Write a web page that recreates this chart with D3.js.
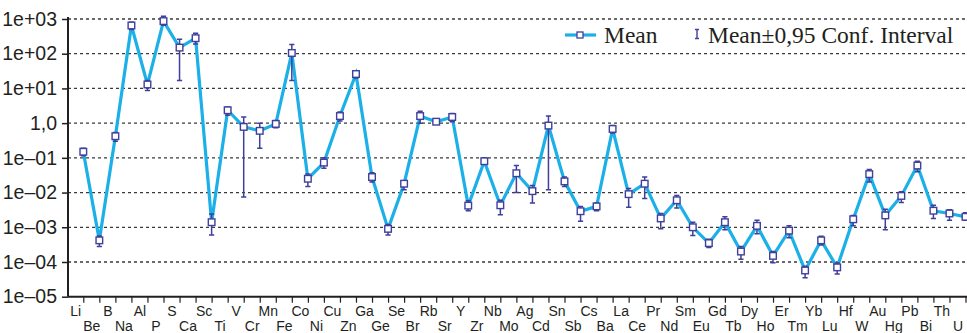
<!DOCTYPE html>
<html>
<head>
<meta charset="utf-8">
<script src="https://cdn.jsdelivr.net/npm/d3@7"></script>
<style>
  html, body { margin: 0; padding: 0; background: #fff; }
  svg { display: block; }
  .tick-label { font-family: "Liberation Sans Narrow", "Liberation Sans", Arial, sans-serif; fill: #231f20; }
  .legend-text { font-family: "Liberation Serif", "Times New Roman", serif; fill: #231f20; }
</style>
</head>
<body>
<svg id="chart" width="967" height="333"></svg>
<script>
// Element order along the x axis
const elements = ["Li","Be","B","Na","Al","P","S","Ca","Sc","Ti","V","Cr","Mn","Fe","Co","Ni","Cu","Zn","Ga","Ge",
  "Se","Br","Rb","Sr","Y","Zr","Nb","Mo","Ag","Cd","Sn","Sb","Cs","Ba","La","Ce","Pr","Nd","Sm","Eu",
  "Gd","Tb","Dy","Ho","Er","Tm","Yb","Lu","Hf","W","Au","Hg","Pb","Bi","Th","U"];

// Mean concentration per element
const means = [0.15, 4.2e-4, 0.42, 650, 13, 870, 150, 280, 1.4e-3, 2.35,
  0.78, 0.6, 0.95, 105, 0.025, 0.073, 1.6, 26, 0.028, 9e-4,
  0.018, 1.6, 1.1, 1.5, 0.0042, 0.08, 0.0043, 0.036, 0.011, 0.85,
  0.021, 0.0029, 0.004, 0.68, 0.009, 0.018, 0.0018, 0.006, 0.001, 3.5e-4,
  0.0014, 2e-4, 0.0011, 1.5e-4, 8e-4, 5.7e-5, 4.2e-4, 7e-5, 0.0017, 0.034,
  0.0022, 0.008, 0.06, 0.003, 0.0025, 0.002];

// Lower bound of the 0.95 confidence interval
const lower = [0.115, 2.8e-4, 0.30, 500, 8.7, 660, 17, 190, 6e-4, 1.7,
  0.0075, 0.19, 0.74, 17, 0.015, 0.05, 1.15, 20, 0.02, 6e-4,
  0.012, 1.0, 0.95, 1.1, 0.003, 0.065, 0.0023, 0.01, 0.005, 0.012,
  0.015, 0.0015, 0.003, 0.52, 0.0038, 0.0068, 0.0009, 0.0036, 0.00058, 2.6e-4,
  0.00085, 1.2e-4, 0.00065, 9.5e-5, 5e-4, 3.5e-5, 3.1e-4, 4.5e-5, 0.0011, 0.02,
  0.00085, 0.0052, 0.04, 0.0018, 0.0016, 0.0016];

// Upper bound of the 0.95 confidence interval
const upper = [0.19, 5.6e-4, 0.54, 800, 17, 1200, 260, 390, 2.4e-3, 2.9,
  1.5, 1.0, 1.2, 185, 0.034, 0.1, 2.1, 32, 0.037, 1.2e-3,
  0.022, 2.2, 1.3, 1.9, 0.0058, 0.1, 0.006, 0.06, 0.016, 1.6,
  0.028, 0.004, 0.005, 0.85, 0.013, 0.028, 0.0025, 0.0082, 0.0014, 4.5e-4,
  0.002, 2.8e-4, 0.0016, 2e-4, 1.1e-3, 7.5e-5, 5.5e-4, 9.3e-5, 0.0022, 0.046,
  0.0033, 0.0105, 0.08, 0.0043, 0.0032, 0.0026];

// Decade ticks on the logarithmic value axis
const yTickValues = [1e3, 1e2, 1e1, 1, 1e-1, 1e-2, 1e-3, 1e-4, 1e-5];
const yTickLabels = ["1e+03", "1e+02", "1e+01", "1,0", "1e\u201301", "1e\u201302", "1e\u201303", "1e\u201304", "1e\u201305"];

const legendLabels = ["Mean", "Mean\u00b10,95 Conf. Interval"];

const rows = elements.map((e, i) => ({ el: e, mean: means[i], lo: lower[i], hi: upper[i] }));

const LINE = "#1bb0e8";
const MARK = "#3f3f9c";
const AXIS = "#231f20";

const svg = d3.select("#chart");
const plotLeft = 68, plotRight = 967, plotTop = 19, plotBottom = 296.7;

const x = d3.scalePoint().domain(elements).range([83.3, 965.5]);
const y = d3.scaleLog().domain([1e-5, 1e3]).range([plotBottom, plotTop]);
const step = x.step();

// Dotted horizontal grid at each decade
svg.append("g")
  .selectAll("line")
  .data(yTickValues.filter(v => v > 1e-5))
  .join("line")
  .attr("x1", plotLeft).attr("x2", plotRight)
  .attr("y1", d => y(d)).attr("y2", d => y(d))
  .attr("stroke", "#3a3a3a")
  .attr("stroke-width", 1.3)
  .attr("stroke-dasharray", "3,3");

// Value axis
const yAxis = svg.append("g")
  .attr("transform", `translate(${plotLeft},0)`)
  .call(d3.axisLeft(y).tickValues(yTickValues).tickSize(6).tickPadding(5)
    .tickFormat((d, i) => yTickLabels[i]));
yAxis.select(".domain").attr("stroke", AXIS).attr("stroke-width", 2).attr("d", `M0,${plotTop - 2}V${plotBottom}`);
yAxis.selectAll(".tick line").attr("stroke", AXIS).attr("stroke-width", 1.5);
yAxis.selectAll(".tick text")
  .attr("class", "tick-label")
  .style("font-size", "19.5px")
  .attr("fill", AXIS);

// Category axis: ticks at the points, names staggered in two rows between ticks
const xAxis = svg.append("g")
  .attr("transform", `translate(0,${plotBottom})`)
  .call(d3.axisBottom(x).tickSize(6).tickPadding(4));
xAxis.select(".domain").attr("stroke", AXIS).attr("stroke-width", 2).attr("d", `M${plotLeft},0H${plotRight}`);
xAxis.selectAll(".tick line").attr("stroke", AXIS).attr("stroke-width", 1.2);
xAxis.selectAll(".tick text")
  .attr("class", "tick-label")
  .style("font-size", "14px")
  .attr("fill", AXIS)
  .attr("dx", -step / 2)
  .attr("y", (d, i) => i % 2 === 0 ? 9 : 24.5);

// Mean line
svg.append("path")
  .datum(rows)
  .attr("fill", "none")
  .attr("stroke", LINE)
  .attr("stroke-width", 3.2)
  .attr("stroke-linejoin", "miter")
  .attr("d", d3.line().x(d => x(d.el)).y(d => y(d.mean)));

// Confidence interval whiskers
const cap = 2.6;
const err = svg.append("g").attr("stroke", MARK).attr("stroke-width", 1.5).attr("fill", "none");
err.selectAll("path")
  .data(rows)
  .join("path")
  .attr("d", d => {
    const cx = x(d.el), y0 = y(d.lo), y1 = y(d.hi);
    return `M${cx},${y0}V${y1}M${cx - cap},${y1}H${cx + cap}M${cx - cap},${y0}H${cx + cap}`;
  });

// Mean markers
svg.append("g")
  .selectAll("rect")
  .data(rows)
  .join("rect")
  .attr("x", d => x(d.el) - 3.3)
  .attr("y", d => y(d.mean) - 3.3)
  .attr("width", 6.6).attr("height", 6.6)
  .attr("fill", "#fff")
  .attr("stroke", MARK)
  .attr("stroke-width", 1.4);

// Legend
const lg = svg.append("g");
lg.append("line").attr("x1", 565).attr("x2", 596).attr("y1", 35).attr("y2", 35)
  .attr("stroke", LINE).attr("stroke-width", 3.2);
lg.append("rect").attr("x", 577).attr("y", 32).attr("width", 6).attr("height", 6)
  .attr("fill", "#fff").attr("stroke", MARK).attr("stroke-width", 1.3);
lg.append("text").attr("class", "legend-text").attr("x", 604).attr("y", 42.5)
  .style("font-size", "23.5px").text(legendLabels[0]);
lg.append("path").attr("d", "M697,29.5V38.5M695,29.5H699M695,38.5H699")
  .attr("stroke", MARK).attr("stroke-width", 1.4).attr("fill", "none");
lg.append("text").attr("class", "legend-text").attr("x", 708).attr("y", 42.5)
  .style("font-size", "23.5px").text(legendLabels[1]);
</script>
</body>
</html>
